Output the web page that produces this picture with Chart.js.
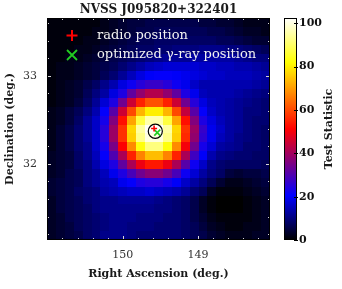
<!DOCTYPE html>
<html><head><meta charset="utf-8">
<script src="https://cdn.jsdelivr.net/npm/chart.js@4.4.1/dist/chart.umd.min.js"></script>
<style>html,body{margin:0;padding:0;background:#fff;overflow:hidden}canvas{display:block}</style>
</head><body>
<canvas id="c" width="342" height="289"></canvas>
<script>
// ---- text ----
const chartTitle = 'NVSS J095820+322401';
const xAxisTitle = 'Right Ascension (deg.)';
const yAxisTitle = 'Declination (deg.)';
const cbTitle = 'Test Statistic';
const legendLabels = ['radio position', 'optimized \u03B3-ray position'];

// ---- axes ----
const raRange = [148.044, 151.005];
const decRange = [31.133, 33.656];
const tsRange = [0, 102.4];
const xTickValues = [150, 149];
const yTickValues = [32, 33];
const cbTickValues = [0, 20, 40, 60, 80, 100];

// ---- map grid (cell centres) ----
const raCenters = [150.946,150.828,150.709,150.591,150.473,150.354,150.236,150.117,149.999,149.880,149.762,149.644,149.525,149.407,149.288,149.170,149.052,148.933,148.815,148.696,148.578,148.460,148.341,148.223,148.104];
const decCenters = [33.606,33.505,33.404,33.303,33.202,33.101,33.000,32.900,32.799,32.698,32.597,32.496,32.395,32.294,32.193,32.092,31.991,31.891,31.790,31.689,31.588,31.487,31.386,31.285,31.184];

// ---- TS values, one row per declination (top to bottom), one column per RA ----
const tsGrid = [
[1,1,1,1,1,1,2,3,4,5,5,6,6,6,6,6,6,5,5,4,4,3,2,2,2],
[1,1,1,1,1,2,2,3,4,5,6,6,7,7,7,7,7,7,6,6,5,4,3,3,2],
[1,1,1,1,2,2,3,4,5,6,7,7,8,8,8,8,8,8,8,7,7,6,5,4,4],
[1,1,1,2,2,3,4,5,6,7,8,8,9,9,10,10,10,11,11,11,10,10,9,8,7],
[1,1,2,2,3,4,5,6,7,8,9,10,11,12,12,12,13,13,13,13,13,12,11,10,10],
[1,2,2,3,4,5,6,7,9,11,13,15,16,17,17,17,17,16,16,15,15,14,14,13,12],
[1,2,2,3,4,5,7,9,12,15,18,20,21,21,20,19,18,17,16,16,15,15,15,14,13],
[1,2,3,4,6,8,11,14,18,22,25,27,27,25,22,19,16,14,14,14,14,14,14,13,12],
[1,2,3,4,7,10,13,18,24,32,38,42,42,38,32,24,19,15,14,14,14,13,12,11,10],
[1,2,3,5,8,12,17,24,34,45,55,61,61,55,45,34,25,18,15,14,13,12,11,10,9],
[2,3,5,7,10,14,21,31,45,60,73,80,80,73,60,44,31,21,16,14,13,12,10,10,9],
[2,3,5,8,12,16,23,36,53,71,87,96,96,87,71,53,36,24,18,15,13,12,10,9,9],
[2,4,6,9,12,16,25,39,57,77,95,102,102,95,77,57,39,27,19,16,13,12,10,9,8],
[2,4,6,9,12,16,25,39,57,76,93,100,100,93,76,56,38,26,19,15,13,11,10,9,8],
[2,4,6,9,11,16,23,35,51,68,83,92,92,83,68,50,34,23,17,13,12,11,9,9,8],
[3,4,5,8,11,15,21,30,41,55,67,74,74,67,55,41,28,20,14,11,10,9,9,8,8],
[3,4,5,8,10,14,18,24,32,41,49,54,54,49,41,31,22,16,11,9,8,8,8,8,7],
[3,4,6,7,10,12,15,19,24,29,34,37,37,34,29,22,17,13,10,8,5,4,5,5,6],
[4,5,6,7,10,12,14,15,19,21,24,25,25,23,20,16,13,10,7,4,2,2,3,4,5],
[4,5,6,8,9,10,13,14,15,16,16,17,16,15,14,12,9,7,3,1,1,1,2,3,4],
[3,5,6,7,9,10,11,11,12,12,12,12,11,10,9,8,6,3,1,0,0,0,1,2,3],
[3,5,6,7,8,10,11,11,11,11,11,11,10,10,9,8,6,3,1,0,0,0,1,2,3],
[3,4,6,7,8,9,10,11,11,11,10,10,10,9,9,8,6,4,2,1,1,1,1,2,3],
[3,4,5,7,8,9,10,11,11,10,10,10,9,9,9,8,7,5,3,2,1,1,2,2,3],
[3,4,5,6,8,9,11,11,11,10,9,9,9,9,9,8,7,6,4,3,2,2,2,3,3]
];

// ---- markers ----
const radioRA = [149.583], radioDec = [32.400];
const gammaRA = [149.541], gammaDec = [32.353];
const circleRA = [149.567], circleDec = [32.369], circleRadius = [0.080];

// ---- colour map (black - blue - red - yellow - white) ----
const cmapStops = [[0,[0,0,0]],[0.2,[0,0,255]],[0.5,[255,0,0]],[0.8,[255,255,0]],[1,[255,255,255]]];
function cmap(t){
  t = Math.max(0, Math.min(1, t));
  for (let k = 1; k < cmapStops.length; k++) {
    if (t <= cmapStops[k][0]) {
      const [t0,c0] = cmapStops[k-1], [t1,c1] = cmapStops[k];
      const f = (t - t0) / (t1 - t0);
      return 'rgb(' + c0.map((c,i) => Math.round(c + (c1[i]-c)*f)).join(',') + ')';
    }
  }
  return 'rgb(255,255,255)';
}
function edgesOf(c){
  const n = c.length, e = [c[0] - (c[1]-c[0])/2];
  for (let k = 1; k < n; k++) e.push((c[k-1]+c[k])/2);
  e.push(c[n-1] + (c[n-1]-c[n-2])/2);
  return e;
}
const SERIF = '"DejaVu Serif", "Liberation Serif", serif';

const heatmapPlugin = {
  id: 'heatmap',
  beforeDatasetsDraw(chart){
    const {ctx, chartArea:a, scales:{x, y}} = chart;
    const re = edgesOf(raCenters), de = edgesOf(decCenters);
    ctx.save();
    ctx.beginPath(); ctx.rect(a.left, a.top, a.right-a.left, a.bottom-a.top); ctx.clip();
    for (let j = 0; j < decCenters.length; j++) {
      const y0 = Math.round(y.getPixelForValue(de[j])), y1 = Math.round(y.getPixelForValue(de[j+1]));
      for (let i = 0; i < raCenters.length; i++) {
        const x0 = Math.round(x.getPixelForValue(re[i])), x1 = Math.round(x.getPixelForValue(re[i+1]));
        ctx.fillStyle = cmap(tsGrid[j][i] / tsRange[1]);
        ctx.fillRect(Math.min(x0,x1), Math.min(y0,y1), Math.abs(x1-x0), Math.abs(y1-y0));
      }
    }
    ctx.restore();
  },
  afterDatasetsDraw(chart){
    const {ctx, chartArea:a, scales:{x, y, cb}} = chart;
    ctx.save();
    // tick marks (inward, all four sides)
    ctx.strokeStyle = '#d8d8d8'; ctx.lineWidth = 1;
    ctx.beginPath();
    for (let v = 148.2; v < 151.01; v += 0.2) {
      const major = Math.abs(v - Math.round(v)) < 1e-6;
      const L = major ? 4 : 2;
      const px = Math.round(x.getPixelForValue(v)) + 0.5;
      ctx.moveTo(px, a.bottom); ctx.lineTo(px, a.bottom - L);
      ctx.moveTo(px, a.top); ctx.lineTo(px, a.top + L);
    }
    for (let v = 31.2; v < 33.65; v += 0.2) {
      const major = Math.abs(v - Math.round(v)) < 1e-6;
      const L = major ? 4 : 2;
      const py = Math.round(y.getPixelForValue(v)) + 0.5;
      ctx.moveTo(a.left, py); ctx.lineTo(a.left + L, py);
      ctx.moveTo(a.right, py); ctx.lineTo(a.right - L, py);
    }
    ctx.stroke();
    // frame
    ctx.strokeStyle = '#000';
    ctx.strokeRect(a.left + 0.5, a.top + 0.5, a.right - a.left - 1, a.bottom - a.top - 1);
    // legend
    const lx = a.left + 25, ly1 = a.top + 17.5, ly2 = a.top + 37;
    ctx.strokeStyle = '#ff0000'; ctx.lineWidth = 2;
    ctx.beginPath(); ctx.moveTo(lx - 5.5, ly1); ctx.lineTo(lx + 5.5, ly1); ctx.moveTo(lx, ly1 - 5.5); ctx.lineTo(lx, ly1 + 5.5); ctx.stroke();
    ctx.strokeStyle = '#22cc22'; ctx.lineWidth = 1.8;
    ctx.beginPath(); ctx.moveTo(lx - 5, ly2 - 5); ctx.lineTo(lx + 5, ly2 + 5); ctx.moveTo(lx - 5, ly2 + 5); ctx.lineTo(lx + 5, ly2 - 5); ctx.stroke();
    ctx.fillStyle = '#f2f2f2'; ctx.font = '13px ' + SERIF; ctx.textAlign = 'left'; ctx.textBaseline = 'middle';
    ctx.fillText(legendLabels[0], a.left + 50, ly1);
    ctx.fillText(legendLabels[1], a.left + 50, ly2);
    // colour bar
    const bx0 = cb.left + 14, bx1 = cb.left + 27;
    for (let py = Math.floor(cb.top); py < Math.ceil(cb.bottom); py++) {
      ctx.fillStyle = cmap(cb.getValueForPixel(py + 0.5) / tsRange[1]);
      ctx.fillRect(bx0, py, bx1 - bx0, 1);
    }
    ctx.strokeStyle = '#000'; ctx.lineWidth = 1;
    ctx.strokeRect(bx0 + 0.5, Math.floor(cb.top) + 0.5, bx1 - bx0 - 1, Math.ceil(cb.bottom) - Math.floor(cb.top) - 1);
    ctx.beginPath();
    cbTickValues.forEach(v => { const py = Math.round(cb.getPixelForValue(v)) + 0.5; ctx.moveTo(bx1 - 3, py); ctx.lineTo(bx1 + 1, py); });
    ctx.stroke();
    ctx.restore();
  },
  afterDraw(chart){
    const {ctx, chartArea:a, scales:{cb}} = chart;
    ctx.save();
    ctx.fillStyle = '#1a1a1a'; ctx.textAlign = 'center'; ctx.textBaseline = 'middle';
    ctx.font = 'bold 12px ' + SERIF;
    ctx.fillText(chartTitle, (a.left + a.right)/2, 10);
    ctx.font = 'bold 11px ' + SERIF;
    ctx.translate(cb.left + 59, (a.top + a.bottom)/2);
    ctx.rotate(-Math.PI/2);
    ctx.fillText(cbTitle, 0, 0);
    ctx.restore();
  }
};

const tickFont = {family: SERIF, size: 11};
const noVPad = s => { s.paddingTop = 0; s.paddingBottom = 0; };
new Chart(document.getElementById('c'), {
  type: 'scatter',
  data: {
    datasets: [
      {label: legendLabels[0], data: radioRA.map((v,k) => ({x: v, y: radioDec[k]})), pointStyle: 'cross', pointRadius: 3, pointBorderColor: '#ff0000', pointBorderWidth: 1.6, order: 1},
      {label: legendLabels[1], data: gammaRA.map((v,k) => ({x: v, y: gammaDec[k]})), pointStyle: 'crossRot', pointRadius: 4.2, pointBorderColor: '#22cc22', pointBorderWidth: 1.6, order: 2},
      {label: 'error circle', data: circleRA.map((v,k) => ({x: v, y: circleDec[k]})), pointStyle: 'circle',
        pointRadius: (ctx) => { const s = ctx.chart.scales.y; return s ? Math.abs(s.getPixelForValue(circleDec[0]) - s.getPixelForValue(circleDec[0] + circleRadius[0])) : 7; },
        pointBorderColor: '#000', pointBorderWidth: 1.2, pointBackgroundColor: 'rgba(0,0,0,0)', order: 3}
    ]
  },
  options: {
    responsive: false, animation: false, events: [], devicePixelRatio: 1,
    layout: {padding: {top: 18, left: 0, right: 0, bottom: 0}},
    plugins: {legend: {display: false}, tooltip: {enabled: false}, title: {display: false}},
    scales: {
      x: {type: 'linear', position: 'bottom', reverse: true, min: raRange[0], max: raRange[1],
        afterBuildTicks: s => { s.ticks = xTickValues.map(v => ({value: v})); },
        afterFit: s => { s.height = 49; s.paddingLeft = 0; s.paddingRight = 0; },
        grid: {display: false, drawTicks: false}, border: {display: false},
        ticks: {font: tickFont, color: '#333', padding: 8.5, maxRotation: 0, callback: v => String(v)},
        title: {display: true, text: xAxisTitle, color: '#1a1a1a', font: {family: SERIF, size: 11, weight: 'bold'}, padding: {top: 0, bottom: 8.4}}
      },
      y: {type: 'linear', position: 'left', min: decRange[0], max: decRange[1],
        afterBuildTicks: s => { s.ticks = yTickValues.map(v => ({value: v})); },
        afterFit: s => { s.width = 47; noVPad(s); },
        grid: {display: false, drawTicks: false}, border: {display: false},
        ticks: {font: tickFont, color: '#333', padding: 10, callback: v => String(v)},
        title: {display: true, text: yAxisTitle, color: '#1a1a1a', font: {family: SERIF, size: 11, weight: 'bold'}, padding: {top: 3.4, bottom: 0}}
      },
      cb: {type: 'linear', axis: 'y', position: 'right', min: tsRange[0], max: tsRange[1],
        afterBuildTicks: s => { s.ticks = cbTickValues.map(v => ({value: v})); },
        afterFit: s => { s.width = 72; noVPad(s); },
        grid: {display: false, drawTicks: false}, border: {display: false},
        ticks: {font: {family: SERIF, size: 11, weight: 'bold'}, color: '#111', padding: 29, callback: v => String(v)}
      }
    }
  },
  plugins: [heatmapPlugin]
});
</script>
</body></html>
